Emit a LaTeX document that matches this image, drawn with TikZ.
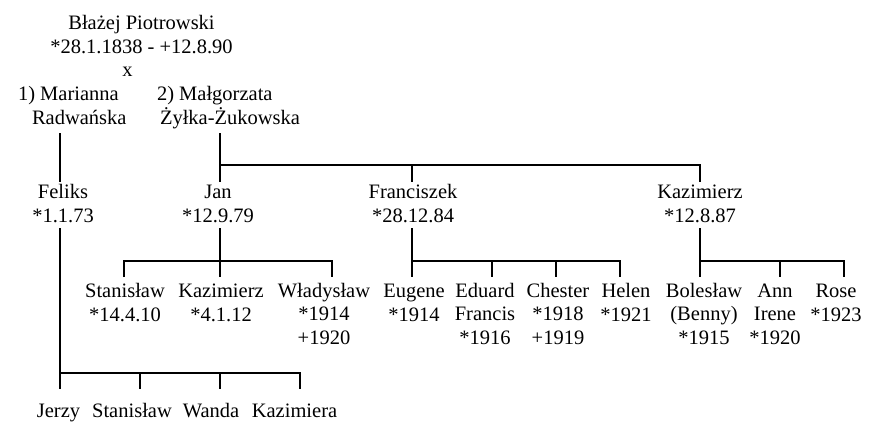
\documentclass[tikz,border=0pt]{standalone}
\usepackage{fontspec}
\setmainfont{Liberation Serif}
\begin{document}
\begin{tikzpicture}[x=1pt,y=-1pt,
  person/.style={inner sep=0pt, outer sep=0pt, align=center, anchor=base, font=\fontsize{20.5}{23.5}\selectfont},
  link/.style={line width=2pt, line join=miter}]
\useasboundingbox (0,0) rectangle (880,441);
% generation 1 (anchor = baseline of the last line)
\node[person] (blazej) at (141.5,53.5) {Błażej Piotrowski\\*28.1.1838 - +12.8.90};
\node[person] (x) at (127.5,77) {x};
\node[person, anchor=base west, align=left] (marianna) at (18,124.5) {1) Marianna\\\hspace*{14pt}Radwańska};
\node[person, anchor=base west, align=left] (malgorzata) at (157,124.5) {2) Małgorzata\\\hspace*{3pt}Żyłka-Żukowska};
% generation 2
\node[person] (feliks) at (63,222) {Feliks\\*1.1.73};
\node[person] (jan) at (218,222) {Jan\\*12.9.79};
\node[person] (franciszek) at (413,222) {Franciszek\\*28.12.84};
\node[person] (kazimierz) at (700,222) {Kazimierz\\*12.8.87};
% generation 3
\node[person] (stanislaw) at (125,321) {Stanisław\\*14.4.10};
\node[person] (kazimierzb) at (221,321) {Kazimierz\\*4.1.12};
\node[person] (wladyslaw) at (324,344) {Władysław\\*1914\\+1920};
\node[person] (eugene) at (414,321) {Eugene\\*1914};
\node[person] (eduard) at (485,344) {Eduard\\Francis\\*1916};
\node[person] (chester) at (558,344) {Chester\\*1918\\+1919};
\node[person] (helen) at (626,321) {Helen\\*1921};
\node[person] (boleslaw) at (704,344) {Bolesław\\(Benny)\\*1915};
\node[person] (ann) at (775,344) {Ann\\Irene\\*1920};
\node[person] (rose) at (836,321) {Rose\\*1923};
% Feliks' children
\node[person] (jerzy) at (58.5,417) {Jerzy};
\node[person] (stanislawb) at (132,417) {Stanisław};
\node[person] (wanda) at (211,417) {Wanda};
\node[person] (kazimiera) at (294.5,417) {Kazimiera};
% connector points
\coordinate (mA) at (60,133);
\coordinate (mB) at (220,133);
\coordinate (felT) at (60,182);
\coordinate (janT) at (220,182);
\coordinate (franT) at (412,182);
\coordinate (kazT) at (700,182);
\coordinate (busJ) at (220,165);
\coordinate (busF) at (412,165);
\coordinate (busK) at (700,165);
\coordinate (felB) at (60,228);
\coordinate (felC) at (60,373);
\coordinate (janB) at (220,228);
\coordinate (janC) at (220,261);
\coordinate (franB) at (412,228);
\coordinate (franC) at (412,261);
\coordinate (kazB) at (700,228);
\coordinate (kazC) at (700,261);
% connectors gen 1 -> gen 2
\draw[link] (mA) -- (felT);
\draw[link] (mB) -- (janT);
\draw[link] (busJ) -- (busK) -- (kazT);
\draw[link] (busF) -- (franT);
% Jan's children
\draw[link] (janB) -- (janC);
\draw[link] (124,277) -- (124,261) -- (332,261) -- (332,277);
\draw[link] (janC) -- (220,277);
% Franciszek's children
\draw[link] (franB) -- (412,277);
\draw[link] (franC) -- (620,261) -- (620,277);
\draw[link] (492,261) -- (492,277);
\draw[link] (556,261) -- (556,277);
% Kazimierz' children
\draw[link] (kazB) -- (700,277);
\draw[link] (kazC) -- (844,261) -- (844,277);
\draw[link] (780,261) -- (780,277);
% Feliks' children
\draw[link] (felB) -- (60,389);
\draw[link] (felC) -- (300,373) -- (300,389);
\draw[link] (140,373) -- (140,389);
\draw[link] (220,373) -- (220,389);
\end{tikzpicture}
\end{document}
